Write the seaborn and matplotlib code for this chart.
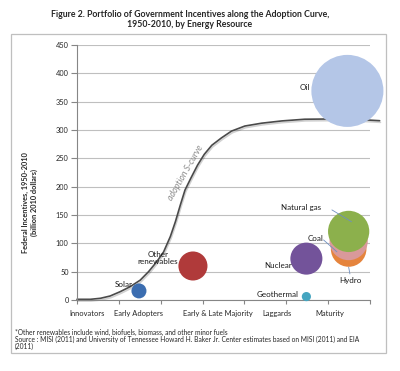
import numpy as np
import pandas as pd
import matplotlib
matplotlib.use('Agg')
import matplotlib.pyplot as plt
import matplotlib.patheffects as pe
from matplotlib.patches import Rectangle
import seaborn as sns

# Data
resources = ['Oil', 'Hydro', 'Coal', 'Natural gas', 'Nuclear', 'Other renewables', 'Solar', 'Geothermal']
stage_pos = [6.46, 6.49, 6.49, 6.49, 5.48, 2.77, 1.48, 5.48]
incentives = [369, 90, 104, 121, 73, 60, 16, 6]
colors = ['#b4c6e7', '#e5843d', '#d9999a', '#8cb04c', '#73539a', '#b03a3a', '#3b6db0', '#45a5c0']

curve_x = [0, 0.32, 0.56, 0.79, 1.03, 1.27, 1.51, 1.71, 1.91, 2.07, 2.23, 2.35, 2.47, 2.58,
           2.72, 2.88, 3.04, 3.22, 3.45, 3.69, 4.01, 4.41, 4.89, 5.44, 6.0, 6.47, 6.95, 7.23]
curve_y = [1.2, 1.2, 3, 7, 14.6, 23.5, 35, 50, 68, 85, 112, 138, 168, 194,
           215, 238, 257, 273, 286, 298, 307, 312, 316, 319, 319.4, 319, 317.6, 316.4]

stage_labels = ['Innovators', 'Early Adopters', 'Early & Late Majority', 'Laggards', 'Maturity']
stage_label_pos = [0.25, 1.48, 3.37, 4.79, 6.04]

label_text = ['Oil', 'Natural gas', 'Coal', 'Hydro', 'Nuclear', 'Other\nrenewables', 'Solar', 'Geothermal']
label_x = [5.44, 5.35, 5.70, 6.54, 4.80, 1.93, 1.12, 4.80]
label_y = [375, 164, 109, 34, 60, 74, 28, 9]

leaders = [((6.09, 6.56), (159, 138)), ((5.89, 6.21), (106, 85)), ((6.49, 6.52), (58, 46))]

df = pd.DataFrame({'resource': resources, 'stage': stage_pos, 'incentive': incentives})

sns.set_style('white')
plt.rcParams['font.family'] = ['Lato', 'DejaVu Sans']

fig = plt.figure(figsize=(4.0, 3.71), dpi=100)
ax = fig.add_axes([0.1925, 0.1914, 0.7325, 0.6873])

# outer frame
fig.patches.append(Rectangle((0.0275, 0.0485), 0.9375, 0.8595, transform=fig.transFigure,
                             fill=False, edgecolor='#bfbfbf', linewidth=0.9))

ax.set_xlim(0, 7)
ax.set_ylim(0, 450)
ax.set_yticks(np.arange(0, 451, 50))
ax.yaxis.grid(True, color='#bfbfbf', linewidth=0.8)
ax.set_axisbelow(True)

sns.lineplot(x=curve_x, y=curve_y, ax=ax, color='#4a4a4a', linewidth=1.2, sort=False,
             clip_on=False, zorder=2,
             path_effects=[pe.SimpleLineShadow(offset=(0.6, -1.2), alpha=0.18, shadow_color='#000000'),
                           pe.Normal()])

sns.scatterplot(data=df, x='stage', y='incentive', hue='resource', size='incentive',
                sizes=(0, 2690), size_norm=(0, 369), palette=dict(zip(resources, colors)),
                linewidth=0, alpha=1, legend=False, ax=ax, clip_on=False, zorder=3)

for (lx, ly) in leaders:
    ax.plot(lx, ly, color='#6f8fbf', linewidth=0.6, zorder=4)

for t, x, y in zip(label_text, label_x, label_y):
    ax.text(x, y, t, fontsize=5.8, ha='center', va='center', color='#1a1a1a',
            linespacing=0.95, zorder=5)

ax.text(2.6, 224, 'adoption S-curve', fontsize=6.3, style='italic', color='#8a8a8a',
        rotation=60, ha='center', va='center', rotation_mode='anchor')

for s in ['top', 'right']:
    ax.spines[s].set_visible(False)
for s in ['left', 'bottom']:
    ax.spines[s].set_color('#868686')
    ax.spines[s].set_linewidth(0.8)

ax.set_xticks(range(8))
ax.set_xticklabels([])
ax.set_xticks(stage_label_pos, minor=True)
ax.set_xticklabels(stage_labels, minor=True)
ax.tick_params(axis='x', which='major', bottom=True, length=3, color='#868686', width=0.8)
ax.tick_params(axis='x', which='minor', bottom=True, length=0, pad=7, labelsize=5.4)
ax.tick_params(axis='y', left=True, length=4, color='#868686', width=0.8, labelsize=5.3, pad=2)
ax.set_xlabel('')
ax.set_ylabel('')

fig.text(0.075, 0.455, 'Federal Incentives, 1950-2010\n(billion 2010 dollars)', rotation=90,
         fontsize=5.3, fontweight='bold', ha='center', va='center', multialignment='center')

fig.text(0.475, 0.948, 'Figure 2. Portfolio of Government Incentives along the Adoption Curve,\n'
         '1950-2010, by Energy Resource', fontsize=6.3, fontweight='bold', ha='center', va='center',
         multialignment='center', linespacing=1.15)

fig.text(0.0375, 0.105, '*Other renewables include wind, biofuels, biomass, and other minor fuels',
         fontsize=4.8, va='center')
fig.text(0.0375, 0.086, 'Source : MISI (2011) and University of Tennessee Howard H. Baker Jr. Center '
         'estimates based on MISI (2011) and EIA', fontsize=4.8, va='center')
fig.text(0.0375, 0.067, '(2011)', fontsize=4.8, va='center')

fig.savefig('out.png', dpi=100)
